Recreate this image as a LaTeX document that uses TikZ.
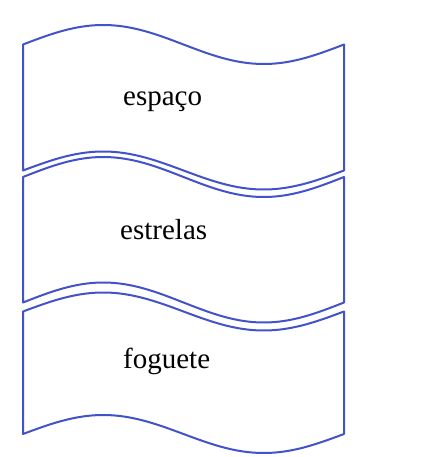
\documentclass[tikz,border=0pt]{standalone}
\usepackage{fontspec}
\setmainfont{Liberation Serif}
\definecolor{boxblue}{RGB}{66,82,200}
\tikzset{
  boxline/.style={draw=boxblue, line width=2pt, line join=round},
  label/.style={inner sep=0pt, text=black, font=\fontsize{29}{32}\selectfont, anchor=base west}
}
\newcommand\myWaveBox[4]{%
  \draw[boxline]
    plot[domain=23:344, samples=80, smooth] (\x, {-(#1 - #2*sin((\x-23)*1.12150))})
    -- plot[domain=344:23, samples=80, smooth] (\x, {-(#3 - #4*sin((\x-23)*1.12150))})
    -- cycle;}
\begin{document}
\begin{tikzpicture}[x=1pt, y=1pt]
  \useasboundingbox (0,0) rectangle (425,-457);
  \myWaveBox{44.5}{19.5}{170.5}{19}
  \myWaveBox{177}{20}{302.5}{20}
  \myWaveBox{311.5}{19}{434}{19}
  \node[label] (t1) at (123,-106) {espaço};
  \node[label] (t2) at (120,-239) {estrelas};
  \node[label] (t3) at (123,-368) {foguete};
\end{tikzpicture}
\end{document}
